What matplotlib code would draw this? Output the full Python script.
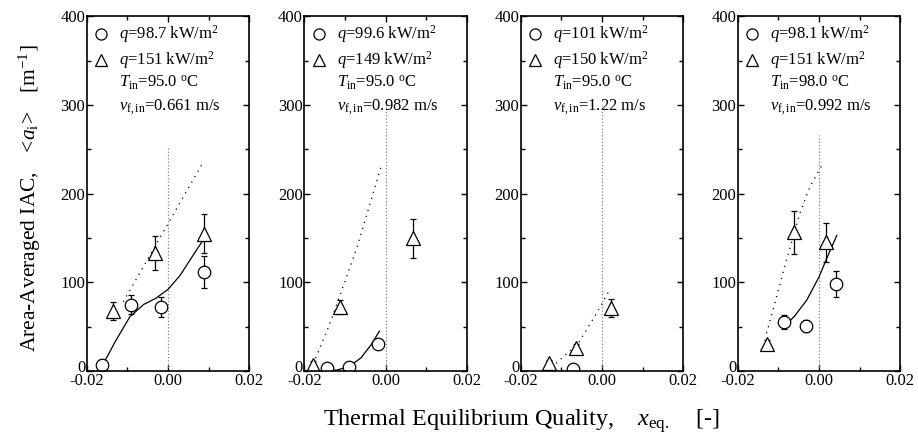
import numpy as np
import matplotlib.pyplot as plt
import matplotlib.transforms as mtransforms

plt.rcParams['font.family'] = ['Liberation Serif', 'DejaVu Serif']
plt.rcParams['mathtext.fontset'] = 'custom'
plt.rcParams['mathtext.rm'] = 'Liberation Serif'
plt.rcParams['mathtext.it'] = 'Liberation Serif:italic'

# ---- data ----
# panel 1
circ1_x = [-0.0162, -0.0092, -0.0016, 0.0089]
circ1_y = [7, 75, 72, 112]
circ1_e = [5, 11, 11, 18]
tri1_x = [-0.0135, -0.0032, 0.0089]
tri1_y = [68, 133, 155]
tri1_e = [10, 19, 22]
fit1_x = [-0.0165, -0.013, -0.0094, -0.006, -0.003, 0.0, 0.003, 0.0071, 0.009]
fit1_y = [3, 33, 61, 75, 82, 92, 108, 137, 150]
dot1_x = [-0.011, 0.0086]
dot1_y = [78, 235]
vline1 = 253

# panel 2
circ2_x = [-0.0144, -0.0089, -0.0018]
circ2_y = [3.7, 4, 30.5]
circ2_e = [3, 3, 3]
tri2_x = [-0.0178, -0.0111, 0.0067]
tri2_y = [7, 72, 150]
tri2_e = [4, 8, 22]
fit2_x = [-0.0155, -0.012, -0.009, -0.006, -0.0035, -0.0015]
fit2_y = [1, 1, 5, 15, 30, 45]
dot2_x = [-0.0178, -0.014, -0.011, -0.007, -0.001]
dot2_y = [8, 50, 88, 140, 232]
vline2 = 300

# panel 3
circ3_x = [-0.0071]
circ3_y = [2]
circ3_e = [2]
tri3_x = [-0.0131, -0.0063, 0.0023]
tri3_y = [8.7, 26, 71]
tri3_e = [4, 5, 10]
dot3_x = [-0.0113, -0.006, -0.002, 0.0021]
dot3_y = [8.7, 30, 60, 93]
vline3 = 300

# panel 4
circ4_x = [-0.0086, -0.0031, 0.0042]
circ4_y = [55.7, 50.8, 98]
circ4_e = [8, 7, 15]
tri4_x = [-0.0129, -0.0062, 0.0017]
tri4_y = [30.5, 156.5, 145]
tri4_e = [5, 24, 22]
fit4_x = [-0.0089, -0.006, -0.003, 0.0, 0.002, 0.0044]
fit4_y = [48, 62, 80, 106, 128, 153]
dot4_x = [-0.0129, -0.0109, -0.008, -0.0047, -0.0022, 0.0011]
dot4_y = [42.5, 76, 125, 178, 208, 235]
vline4 = 266

labels = [
    ['98.7', '151', '95.0', '0.661'],
    ['99.6', '149', '95.0', '0.982'],
    ['101', '150', '95.0', '1.22'],
    ['98.1', '151', '98.0', '0.992'],
]

panels = [
    (circ1_x, circ1_y, circ1_e, tri1_x, tri1_y, tri1_e, fit1_x, fit1_y, dot1_x, dot1_y, vline1),
    (circ2_x, circ2_y, circ2_e, tri2_x, tri2_y, tri2_e, fit2_x, fit2_y, dot2_x, dot2_y, vline2),
    (circ3_x, circ3_y, circ3_e, tri3_x, tri3_y, tri3_e, None, None, dot3_x, dot3_y, vline3),
    (circ4_x, circ4_y, circ4_e, tri4_x, tri4_y, tri4_e, fit4_x, fit4_y, dot4_x, dot4_y, vline4),
]

fig = plt.figure(figsize=(9.18, 4.44), dpi=100)
lift = mtransforms.ScaledTranslation(0, 0.05, fig.dpi_scale_trans)

lefts = [86.7, 304.3, 520.7, 737.7]
for i, (cx, cy, ce, tx, ty, te, fx, fy, dx, dy, vl) in enumerate(panels):
    ax = fig.add_axes([lefts[i] / 918, 73 / 444, 162.5 / 918, 354.5 / 444])

    ax.plot([0, 0], [0, vl], color='gray', ls=':', lw=0.9)
    ax.plot(dx, dy, color='black', ls=(0, (1, 4)), lw=0.9)
    if fx is not None:
        ax.plot(fx, fy, color='black', lw=0.9)
    ax.errorbar(cx, cy, yerr=ce, fmt='o', ms=9, mfc='white', mec='black',
                mew=0.9, ecolor='black', elinewidth=0.9, capsize=2.5)
    ax.errorbar(tx, ty, yerr=te, fmt='^', ms=10, mfc='white', mec='black',
                mew=0.9, ecolor='black', elinewidth=0.9, capsize=2.5)

    ax.set_xlim(-0.02, 0.02)
    ax.set_ylim(0, 400)
    ax.set_xticks([-0.02, 0.0, 0.02])
    ax.set_xticklabels(['-0.02', '0.00', '0.02'])
    ax.set_xticks([-0.01, 0.01], minor=True)
    ax.set_yticks([0, 100, 200, 300, 400])
    ax.set_yticks([50, 150, 250, 350], minor=True)
    ax.tick_params(which='both', direction='in', top=True, right=True,
                   labelsize=12)
    ax.tick_params(axis='x', pad=1.5)
    ax.tick_params(axis='y', pad=1)
    ax.tick_params(which='major', length=4, width=1)
    ax.tick_params(which='minor', length=3, width=1)
    for s in ax.spines.values():
        s.set_linewidth(1.2)
    # the "0" label sits a little above the axis, as in the reference
    zero_lab = ax.yaxis.get_major_ticks()[0].label1
    zero_lab.set_transform(zero_lab.get_transform() + lift)

    # in-panel legend
    q1, q2, tin, vin = labels[i]
    ax.plot([0.088], [0.95], 'o', ms=8, mfc='white', mec='black', mew=0.9,
            transform=ax.transAxes, clip_on=False)
    ax.plot([0.088], [0.877], '^', ms=9, mfc='white', mec='black', mew=0.9,
            transform=ax.transAxes, clip_on=False)
    fs = 12
    ax.text(0.2, 0.95, r'$q$=' + q1 + r' kW/m$^2$', transform=ax.transAxes,
            fontsize=fs, va='center')
    ax.text(0.2, 0.877, r'$q$=' + q2 + r' kW/m$^2$', transform=ax.transAxes,
            fontsize=fs, va='center')
    ax.text(0.2, 0.812, r'$T_{\rm in}$=' + tin + r' $^{\rm o}$C',
            transform=ax.transAxes, fontsize=fs, va='center')
    ax.text(0.2, 0.745, r'$v_{\rm f,in}$=' + vin + ' m/s',
            transform=ax.transAxes, fontsize=fs, va='center')

fig.text(522 / 918, 23 / 444, r'Thermal Equilibrium Quality,    $x_{\rm eq.}$    [-]',
         ha='center', va='center', fontsize=17.5)
fig.text(30 / 918, 246 / 444,
         r'Area-Averaged IAC,   $<\!a_{\rm i}\!>$   [m$^{-1}$]',
         ha='center', va='center', rotation=90, fontsize=15.5)

fig.savefig('out.png', dpi=100)
